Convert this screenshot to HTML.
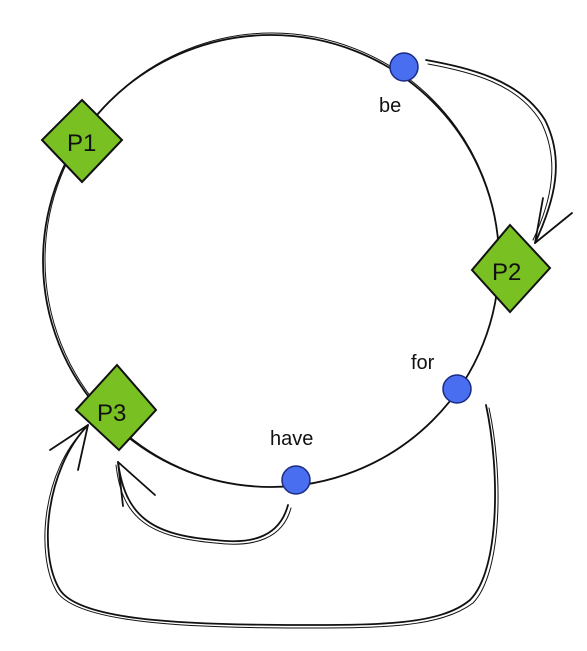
<!DOCTYPE html>
<html><head><style>
html,body{margin:0;padding:0;background:#fff;width:587px;height:651px;overflow:hidden}
svg{display:block}
text{font-family:"Liberation Sans",sans-serif;fill:#111}
</style></head><body>
<svg width="587" height="651" viewBox="0 0 587 651" fill="none" stroke="#111" stroke-width="1.8" stroke-linecap="round">
<ellipse cx="271" cy="261" rx="228" ry="226"/>
<ellipse cx="272" cy="260" rx="227" ry="227" stroke-width="1"/>
<!-- be arrow -->
<path d="M426 60 C470 68 520 80 545 120 C565 160 555 200 535 243"/>
<path d="M428 64 C472 72 518 84 541 122 C560 160 552 200 533 240" stroke-width="1"/>
<path d="M535 243 L543 198 M535 243 L572 213"/>
<!-- have arrow -->
<path d="M288 505 C280 535 255 545 215 540 C150 535 125 515 118 462"/>
<path d="M291 508 C283 538 255 548 215 543 C148 537 122 518 116 465" stroke-width="1"/>
<path d="M118 462 L123 506 M118 462 L155 495"/>
<!-- for arrow -->
<path d="M486 405 C500 470 500 570 470 600 C440 625 380 625 300 625 C180 625 80 620 60 590 C38 555 45 470 88 425"/>
<path d="M489 408 C503 472 503 572 473 603 C440 628 380 628 300 628 C180 628 78 622 57 592 C35 556 42 470 86 428" stroke-width="1"/>
<path d="M88 425 L50 450 M88 425 L78 470"/>
<!-- diamonds -->
<g fill="#79c122" stroke="#111" stroke-width="2">
<polygon points="82,100 122,140 82,182 42,140"/>
<polygon points="510,225 550,268 510,312 472,270"/>
<polygon points="117,365 156,410 119,450 76,410"/>
</g>
<!-- dots -->
<g fill="#4a6ef0" stroke="#1a2a80" stroke-width="1.5">
<circle cx="404" cy="67" r="14"/>
<circle cx="457" cy="389" r="14"/>
<circle cx="296" cy="480" r="14"/>
</g>
<g stroke="none">
<text x="67" y="151" font-size="24">P1</text>
<text x="492" y="280" font-size="24">P2</text>
<text x="97" y="421" font-size="24">P3</text>
<text x="379" y="112" font-size="20">be</text>
<text x="411" y="369" font-size="20">for</text>
<text x="270" y="445" font-size="20">have</text>
</g>
</svg>
</body></html>
